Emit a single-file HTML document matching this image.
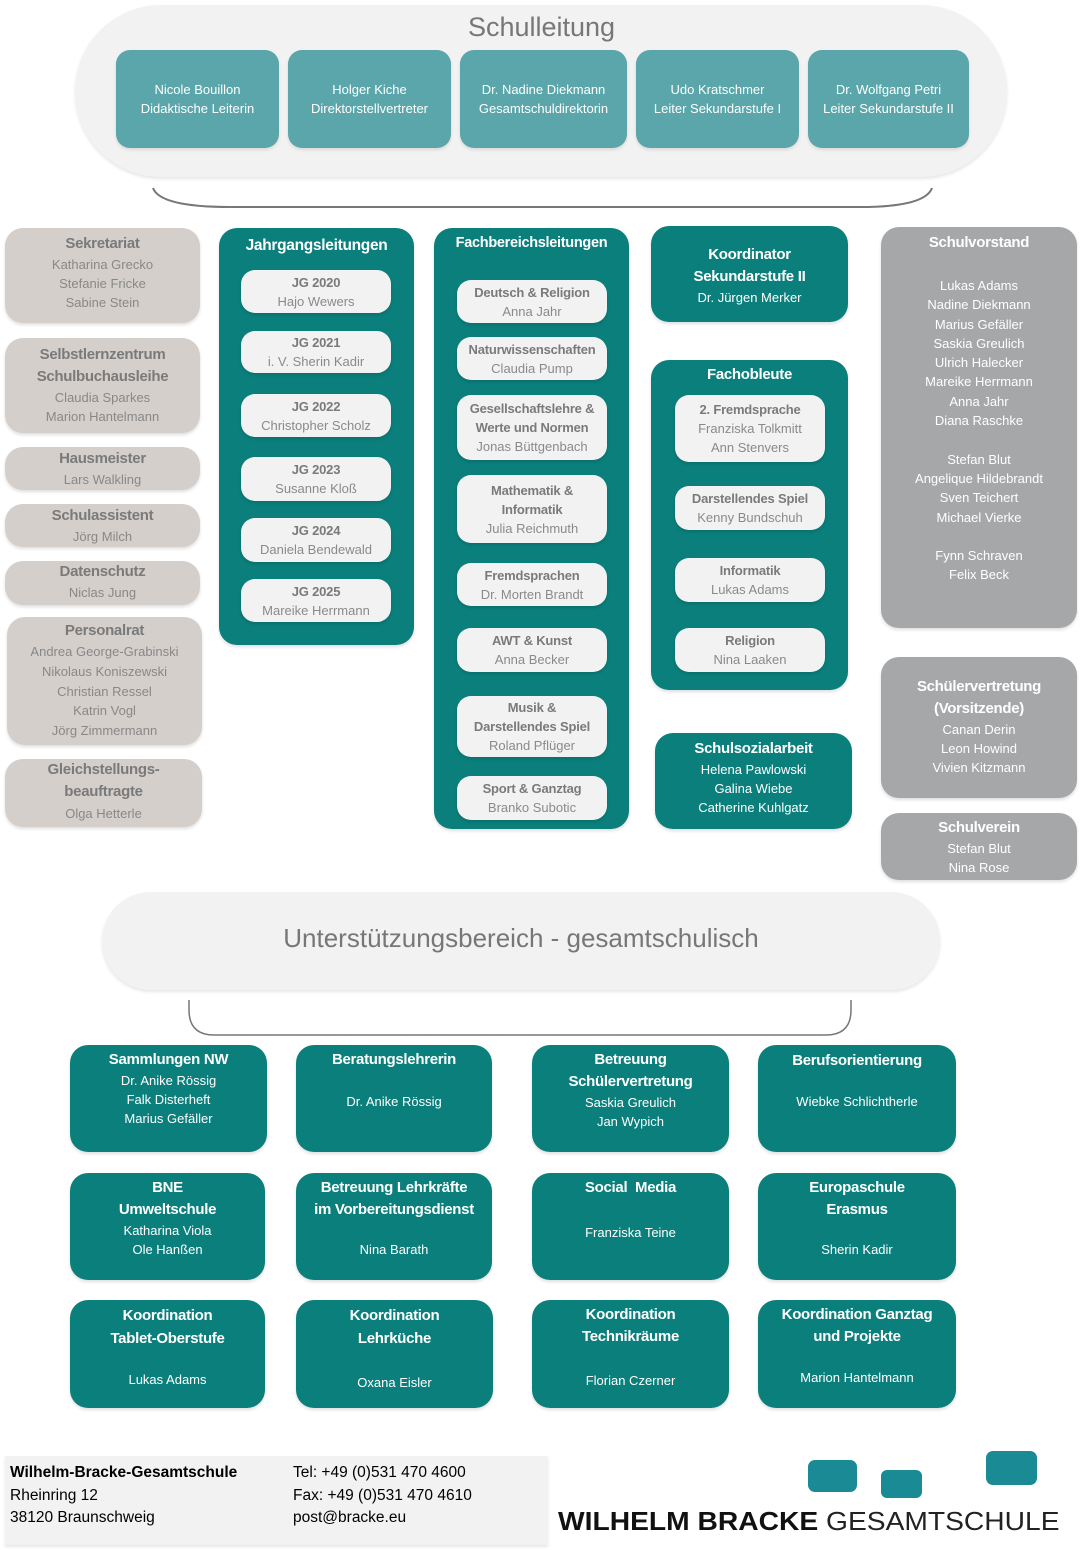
<!DOCTYPE html>
<html><head><meta charset="utf-8"><style>
*{margin:0;padding:0;box-sizing:border-box}
body{width:1083px;height:1550px;position:relative;background:#fff;font-family:"Liberation Sans",sans-serif;overflow:hidden}
.b{position:absolute;text-align:center;border-radius:18px;box-shadow:0 2px 3px rgba(0,0,0,.13)}
.tl{background:#0b7f7c;color:#fff}
.be{background:#d5cfcb;color:#888}
.gr{background:#a6a7a9;color:#fff}
.lt{background:#f2f2f2;color:#808080;border-radius:14px;display:flex;flex-direction:column;justify-content:center}
.top{background:#5aa6aa;color:#fff;border-radius:14px;display:flex;flex-direction:column;justify-content:center;text-align:center;font-size:13px;line-height:19px;box-shadow:0 2px 3px rgba(0,0,0,.1)}
.t{font-weight:bold;font-size:15px;line-height:22px;letter-spacing:-.3px}
.be .t{color:#7a7a7a}
.n{font-size:13px;line-height:19px}
.lt .t{font-size:13px;line-height:19px;color:#7a7a7a;letter-spacing:-.2px}
.lt .n{color:#8a8a8a}
.sp{height:19px}
.pill{position:absolute;background:#f2f2f2;box-shadow:0 2px 3px rgba(0,0,0,.1)}
</style></head><body>

<div class="pill" style="left:75px;top:5px;width:932px;height:172px;border-radius:86px"></div>
<div style="position:absolute;left:0;width:1083px;top:12px;text-align:center;font-size:27px;color:#777">Schulleitung</div>
<div class="top" style="position:absolute;left:116px;top:50px;width:163px;height:98px">Nicole Bouillon<br>Didaktische Leiterin</div>
<div class="top" style="position:absolute;left:288px;top:50px;width:163px;height:98px">Holger Kiche<br>Direktorstellvertreter</div>
<div class="top" style="position:absolute;left:460px;top:50px;width:167px;height:98px">Dr. Nadine Diekmann<br>Gesamtschuldirektorin</div>
<div class="top" style="position:absolute;left:636px;top:50px;width:163px;height:98px">Udo Kratschmer<br>Leiter Sekundarstufe I</div>
<div class="top" style="position:absolute;left:808px;top:50px;width:161px;height:98px">Dr. Wolfgang Petri<br>Leiter Sekundarstufe II</div>

<svg style="position:absolute;left:0;top:0" width="1083" height="1550">
<path d="M153 188 Q160 207 230 207 L860 207 Q925 207 932 188" fill="none" stroke="#777" stroke-width="2"/>
<path d="M189 1000 L189 1010 Q189 1035 214 1035 L826 1035 Q851 1035 851 1010 L851 1000" fill="none" stroke="#777" stroke-width="1.5"/>
<rect x="808" y="1460" width="49" height="32" rx="7" fill="#1a8a94"/>
<rect x="881" y="1470" width="41" height="28" rx="6" fill="#1a8a94"/>
<rect x="986" y="1451" width="51" height="34" rx="7" fill="#1a8a94"/>
</svg>

<div class="b be" style="left:5px;top:228px;width:195px;height:95px;padding-top:5px"><div class="t">Sekretariat</div><div class="n">Katharina Grecko<br>Stefanie Fricke<br>Sabine Stein</div></div>
<div class="b be" style="left:5px;top:338px;width:195px;height:95px;padding-top:6px"><div class="t">Selbstlernzentrum<br>Schulbuchausleihe</div><div class="n">Claudia Sparkes<br>Marion Hantelmann</div></div>
<div class="b be" style="left:5px;top:447px;width:195px;height:43px;padding-top:1px"><div class="t">Hausmeister</div><div class="n">Lars Walkling</div></div>
<div class="b be" style="left:5px;top:504px;width:195px;height:43px;padding-top:1px"><div class="t">Schulassistent</div><div class="n">Jörg Milch</div></div>
<div class="b be" style="left:5px;top:561px;width:195px;height:44px;padding-top:0px"><div class="t">Datenschutz</div><div class="n">Niclas Jung</div></div>
<div class="b be" style="left:7px;top:617px;width:195px;height:128px;padding-top:3px"><div class="t">Personalrat</div><div class="n" style="line-height:19.8px">Andrea George-Grabinski<br>Nikolaus Koniszewski<br>Christian Ressel<br>Katrin Vogl<br>Jörg Zimmermann</div></div>
<div class="b be" style="left:5px;top:759px;width:197px;height:68px;padding-top:0px"><div class="t">Gleichstellungs-<br>beauftragte</div><div class="n" style="line-height:21px">Olga Hetterle</div></div>

<div class="b tl" style="left:219px;top:228px;width:195px;height:417px;padding-top:7px"><div class="t" style="font-size:15.5px">Jahrgangsleitungen</div></div>
<div class="b lt" style="left:241px;top:270px;width:150px;height:43px"><div class="t">JG 2020</div><div class="n">Hajo Wewers</div></div>
<div class="b lt" style="left:241px;top:331px;width:150px;height:42px"><div class="t">JG 2021</div><div class="n">i. V. Sherin Kadir</div></div>
<div class="b lt" style="left:241px;top:394px;width:150px;height:43px"><div class="t">JG 2022</div><div class="n">Christopher Scholz</div></div>
<div class="b lt" style="left:241px;top:457px;width:150px;height:44px"><div class="t">JG 2023</div><div class="n">Susanne Kloß</div></div>
<div class="b lt" style="left:241px;top:518px;width:150px;height:44px"><div class="t">JG 2024</div><div class="n">Daniela Bendewald</div></div>
<div class="b lt" style="left:241px;top:579px;width:150px;height:43px"><div class="t">JG 2025</div><div class="n">Mareike Herrmann</div></div>

<div class="b tl" style="left:434px;top:228px;width:195px;height:601px;padding-top:4px"><div class="t" style="font-size:14.5px">Fachbereichsleitungen</div></div>
<div class="b lt" style="left:457px;top:280px;width:150px;height:43px"><div class="t">Deutsch &amp; Religion</div><div class="n">Anna Jahr</div></div>
<div class="b lt" style="left:457px;top:337px;width:150px;height:43px"><div class="t">Naturwissenschaften</div><div class="n">Claudia Pump</div></div>
<div class="b lt" style="left:457px;top:395px;width:150px;height:65px"><div class="t">Gesellschaftslehre &amp;<br>Werte und Normen</div><div class="n">Jonas Büttgenbach</div></div>
<div class="b lt" style="left:457px;top:475px;width:150px;height:68px"><div class="t">Mathematik &amp;<br>Informatik</div><div class="n">Julia Reichmuth</div></div>
<div class="b lt" style="left:457px;top:563px;width:150px;height:43px"><div class="t">Fremdsprachen</div><div class="n">Dr. Morten Brandt</div></div>
<div class="b lt" style="left:457px;top:628px;width:150px;height:44px"><div class="t">AWT &amp; Kunst</div><div class="n">Anna Becker</div></div>
<div class="b lt" style="left:457px;top:696px;width:150px;height:61px"><div class="t">Musik &amp;<br>Darstellendes Spiel</div><div class="n">Roland Pflüger</div></div>
<div class="b lt" style="left:457px;top:776px;width:150px;height:44px"><div class="t">Sport &amp; Ganztag</div><div class="n">Branko Subotic</div></div>

<div class="b tl" style="left:651px;top:226px;width:197px;height:96px;padding-top:18px"><div class="t">Koordinator<br>Sekundarstufe II</div><div class="n">Dr. Jürgen Merker</div></div>
<div class="b tl" style="left:651px;top:360px;width:197px;height:330px;padding-top:4px"><div class="t">Fachobleute</div></div>
<div class="b lt" style="left:675px;top:395px;width:150px;height:67px"><div class="t">2. Fremdsprache</div><div class="n">Franziska Tolkmitt<br>Ann Stenvers</div></div>
<div class="b lt" style="left:675px;top:486px;width:150px;height:44px"><div class="t">Darstellendes Spiel</div><div class="n">Kenny Bundschuh</div></div>
<div class="b lt" style="left:675px;top:558px;width:150px;height:44px"><div class="t">Informatik</div><div class="n">Lukas Adams</div></div>
<div class="b lt" style="left:675px;top:628px;width:150px;height:44px"><div class="t">Religion</div><div class="n">Nina Laaken</div></div>
<div class="b tl" style="left:655px;top:733px;width:197px;height:96px;padding-top:5px"><div class="t">Schulsozialarbeit</div><div class="n">Helena Pawlowski<br>Galina Wiebe<br>Catherine Kuhlgatz</div></div>

<div class="b gr" style="left:881px;top:227px;width:196px;height:401px;padding-top:5px"><div class="t">Schulvorstand</div><div class="n" style="line-height:19.3px;margin-top:22px">Lukas Adams<br>Nadine Diekmann<br>Marius Gefäller<br>Saskia Greulich<br>Ulrich Halecker<br>Mareike Herrmann<br>Anna Jahr<br>Diana Raschke<br><br>Stefan Blut<br>Angelique Hildebrandt<br>Sven Teichert<br>Michael Vierke<br><br>Fynn Schraven<br>Felix Beck</div></div>
<div class="b gr" style="left:881px;top:657px;width:196px;height:141px;padding-top:19px"><div class="t">Schülervertretung<br>(Vorsitzende)</div><div class="n">Canan Derin<br>Leon Howind<br>Vivien Kitzmann</div></div>
<div class="b gr" style="left:881px;top:813px;width:196px;height:67px;padding-top:4px"><div class="t">Schulverein</div><div class="n">Stefan Blut<br>Nina Rose</div></div>

<div class="pill" style="left:102px;top:892px;width:838px;height:98px;border-radius:49px"></div>
<div style="position:absolute;left:102px;width:838px;top:923px;text-align:center;font-size:26px;color:#777">Unterstützungsbereich - gesamtschulisch</div>

<div class="b tl" style="left:70px;top:1045px;width:197px;height:107px;padding-top:4px"><div class="t">Sammlungen NW</div><div class="n">Dr. Anike Rössig<br>Falk Disterheft<br>Marius Gefäller</div></div>
<div class="b tl" style="left:296px;top:1045px;width:196px;height:107px;padding-top:4px"><div class="t">Beratungslehrerin</div><div class="sp" style="height:21px"></div><div class="n">Dr. Anike Rössig</div></div>
<div class="b tl" style="left:532px;top:1045px;width:197px;height:107px;padding-top:4px"><div class="t">Betreuung<br>Schülervertretung</div><div class="n">Saskia Greulich<br>Jan Wypich</div></div>
<div class="b tl" style="left:758px;top:1045px;width:198px;height:107px;padding-top:5px"><div class="t">Berufsorientierung</div><div class="sp" style="height:20px"></div><div class="n">Wiebke Schlichtherle</div></div>

<div class="b tl" style="left:70px;top:1173px;width:195px;height:107px;padding-top:4px"><div class="t">BNE<br>Umweltschule</div><div class="n">Katharina Viola<br>Ole Hanßen</div></div>
<div class="b tl" style="left:296px;top:1173px;width:196px;height:107px;padding-top:4px"><div class="t">Betreuung Lehrkräfte<br>im Vorbereitungsdienst</div><div class="sp"></div><div class="n">Nina Barath</div></div>
<div class="b tl" style="left:532px;top:1173px;width:197px;height:107px;padding-top:4px"><div class="t">Social&nbsp; Media</div><div class="sp" style="height:24px"></div><div class="n">Franziska Teine</div></div>
<div class="b tl" style="left:758px;top:1173px;width:198px;height:107px;padding-top:4px"><div class="t">Europaschule<br>Erasmus</div><div class="sp"></div><div class="n">Sherin Kadir</div></div>

<div class="b tl" style="left:70px;top:1300px;width:195px;height:108px;padding-top:4px"><div class="t" style="line-height:23px">Koordination<br>Tablet-Oberstufe</div><div class="sp" style="height:20px"></div><div class="n">Lukas Adams</div></div>
<div class="b tl" style="left:296px;top:1300px;width:197px;height:108px;padding-top:4px"><div class="t" style="line-height:23px">Koordination<br>Lehrküche</div><div class="sp" style="height:23px"></div><div class="n">Oxana Eisler</div></div>
<div class="b tl" style="left:532px;top:1300px;width:197px;height:108px;padding-top:4px"><div class="t">Koordination<br>Technikräume</div><div class="sp" style="height:23px"></div><div class="n">Florian Czerner</div></div>
<div class="b tl" style="left:758px;top:1300px;width:198px;height:108px;padding-top:4px"><div class="t">Koordination Ganztag<br>und Projekte</div><div class="sp" style="height:20px"></div><div class="n">Marion Hantelmann</div></div>

<div style="position:absolute;left:5px;top:1456px;width:543px;height:89px;background:#f2f2f2;box-shadow:0 2px 3px rgba(0,0,0,.1)"></div>
<div style="position:absolute;left:10px;top:1462px;font-size:15.5px;line-height:22.5px;color:#000"><b>Wilhelm-Bracke-Gesamtschule</b><br>Rheinring 12<br>38120 Braunschweig</div>
<div style="position:absolute;left:293px;top:1462px;font-size:15.5px;line-height:22.5px;color:#000">Tel: +49 (0)531 470 4600<br>Fax: +49 (0)531 470 4610<br>post@bracke.eu</div>
<div style="position:absolute;left:558px;top:1506px;font-size:26px;white-space:nowrap;color:#111;transform:scaleX(1.085);transform-origin:0 0"><b>WILHELM BRACKE</b> <span style="color:#222">GESAMTSCHULE</span></div>
</body></html>
